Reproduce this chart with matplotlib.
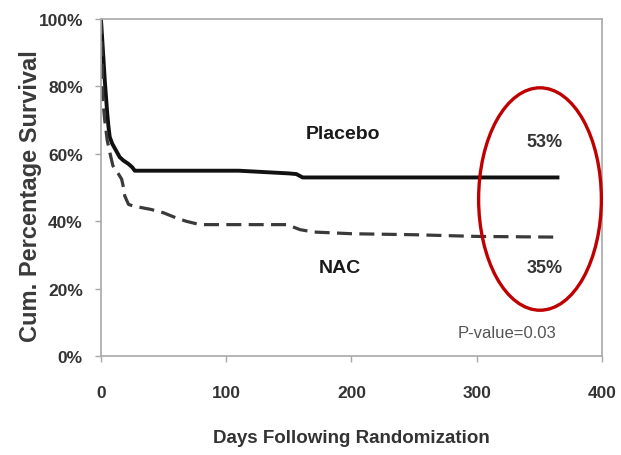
import matplotlib
matplotlib.use('Agg')
import matplotlib.pyplot as plt
from matplotlib.patches import Ellipse
from matplotlib.ticker import FuncFormatter

# Kaplan-Meier style curves (days, % surviving)
placebo_days = [0, 2, 3, 4, 5, 6, 7, 9, 12, 15, 18, 22, 25, 27, 110, 125, 150, 156, 161, 366]
placebo_surv = [100, 88, 82, 77, 72, 68, 65, 63, 61, 59, 58, 57, 56, 55, 55, 54.7, 54.2, 54, 53, 53]

nac_days = [0, 1, 1.5, 3, 5, 7, 9.5, 14, 16.5, 18, 19, 22, 26, 40, 50, 60, 68, 79, 148, 152, 159,
            170, 200, 250, 300, 362]
nac_surv = [100, 85, 76, 70, 64, 60.5, 56.5, 54, 52.5, 50, 47.5, 45, 44.5, 43.5, 42.5, 41, 40, 39,
            39, 38.5, 37.5, 36.8, 36.3, 36, 35.5, 35.3]

x_ticks = [0, 100, 200, 300, 400]
y_ticks = [0, 20, 40, 60, 80, 100]

plt.rcParams['font.family'] = ['Liberation Sans', 'DejaVu Sans']

fig = plt.figure(figsize=(6.21, 4.56), dpi=100, facecolor='white')
ax = fig.add_axes([0.1626, 0.217, 0.8068, 0.739])

ax.plot(placebo_days, placebo_surv, color='#111111', linewidth=2.8, solid_capstyle='butt')
ax.plot(nac_days, nac_surv, color='#3a3a3a', linewidth=2.3, linestyle=(0, (4.7, 2.3)))

ax.set_xlim(0, 400)
ax.set_ylim(0, 100)
ax.set_xticks(x_ticks)
ax.set_yticks(y_ticks)
ax.yaxis.set_major_formatter(FuncFormatter(lambda v, p: f"{int(v)}%"))

for s in ax.spines.values():
    s.set_color('#a8a8a8')
    s.set_linewidth(1.2)

ax.tick_params(axis='both', direction='out', length=4, width=1, color='#a8a8a8',
               labelsize=12.5, labelcolor='#333333')
ax.tick_params(axis='x', pad=17)
ax.tick_params(axis='y', pad=9)
for lab in ax.get_xticklabels() + ax.get_yticklabels():
    lab.set_fontweight('bold')

ax.set_xlabel('Days Following Randomization', fontsize=13.5, fontweight='bold', color='#333333',
              labelpad=21)
ax.set_ylabel('Cum. Percentage Survival', fontsize=17, fontweight='bold', color='#3a3a3a')
ax.yaxis.set_label_coords(-0.117, 0.478)

# annotations
ax.text(193, 66, 'Placebo', fontsize=14, fontweight='bold', color='#1a1a1a', ha='center', va='center')
ax.text(354, 63.8, '53%', fontsize=13, fontweight='bold', color='#333333', ha='center', va='center')
ax.text(191, 26.4, 'NAC', fontsize=14, fontweight='bold', color='#1a1a1a', ha='center', va='center')
ax.text(354, 26.4, '35%', fontsize=13, fontweight='bold', color='#333333', ha='center', va='center')
ax.text(324, 7.1, 'P-value=0.03', fontsize=12, color='#555555', ha='center', va='center')

ell = Ellipse((350.5, 46.6), width=98, height=66, fill=False, edgecolor='#c00000',
              linewidth=2.4, transform=ax.transData, clip_on=False, zorder=5)
ax.add_patch(ell)

fig.savefig('out.png', dpi=100, facecolor='white')
